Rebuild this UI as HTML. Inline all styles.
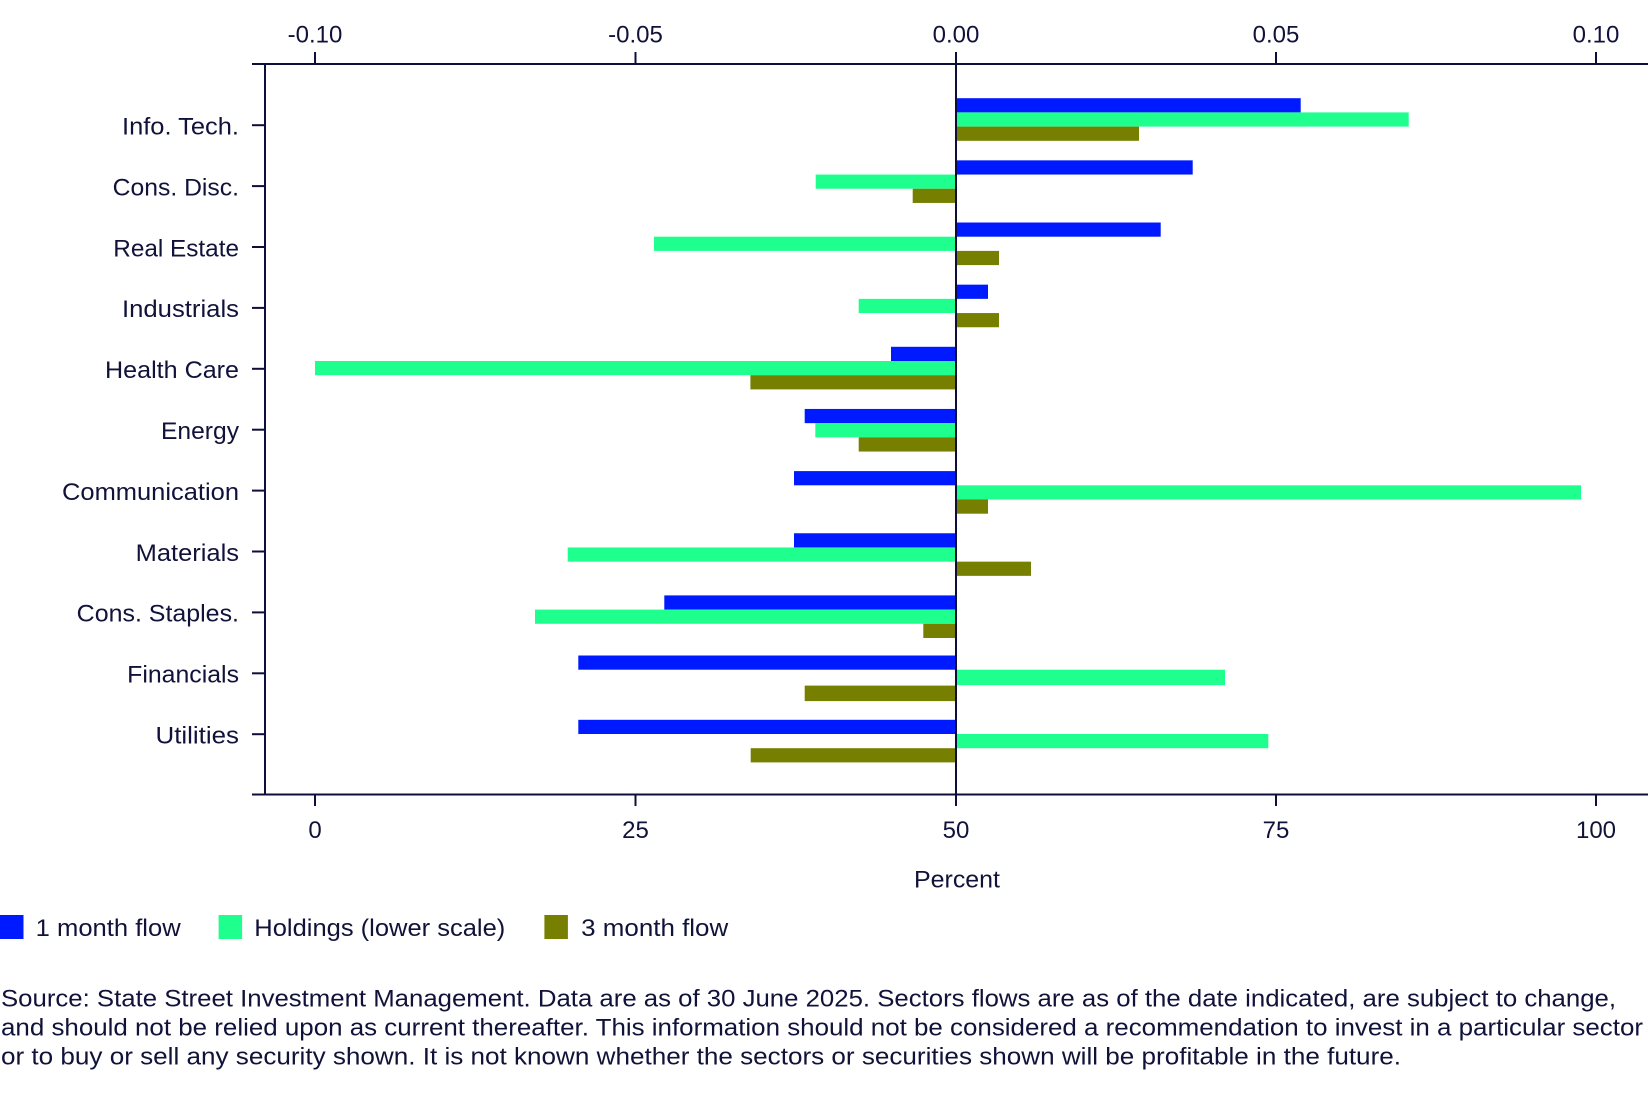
<!DOCTYPE html>
<html>
<head>
<meta charset="utf-8">
<style>
  html,body{margin:0;padding:0;background:#ffffff;}
  svg{display:block;}
  text{font-family:"Liberation Sans",sans-serif;fill:#10123a;font-size:24px;}
</style>
</head>
<body>
<svg width="1648" height="1119" viewBox="0 0 1648 1119" xmlns="http://www.w3.org/2000/svg">
  <rect x="0" y="0" width="1648" height="1119" fill="#ffffff"/>

  <!-- Bars -->
  <!-- Info. Tech. c=119.5 -->
  <g>
    <rect x="956" y="98.2" width="344.7" height="14.2" fill="#001AFF"/>
    <rect x="956" y="112.4" width="452.7" height="14.2" fill="#1FFF8E"/>
    <rect x="956" y="126.6" width="183" height="14.2" fill="#767F00"/>
  </g>
  <!-- Cons. Disc. c=181.65 -->
  <g>
    <rect x="956" y="160.35" width="236.7" height="14.2" fill="#001AFF"/>
    <rect x="815.7" y="174.55" width="140.3" height="14.2" fill="#1FFF8E"/>
    <rect x="912.7" y="188.75" width="43.3" height="14.2" fill="#767F00"/>
  </g>
  <!-- Real Estate c=243.8 -->
  <g>
    <rect x="956" y="222.5" width="204.7" height="14.2" fill="#001AFF"/>
    <rect x="654" y="236.7" width="302" height="14.2" fill="#1FFF8E"/>
    <rect x="956" y="250.9" width="43" height="14.2" fill="#767F00"/>
  </g>
  <!-- Industrials c=305.95 -->
  <g>
    <rect x="956" y="284.65" width="32" height="14.2" fill="#001AFF"/>
    <rect x="858.7" y="298.85" width="97.3" height="14.2" fill="#1FFF8E"/>
    <rect x="956" y="313.05" width="43" height="14.2" fill="#767F00"/>
  </g>
  <!-- Health Care c=368.1 -->
  <g>
    <rect x="891" y="346.8" width="65" height="14.2" fill="#001AFF"/>
    <rect x="315" y="361" width="641" height="14.2" fill="#1FFF8E"/>
    <rect x="750.4" y="375.2" width="205.6" height="14.2" fill="#767F00"/>
  </g>
  <!-- Energy c=430.25 -->
  <g>
    <rect x="804.7" y="408.95" width="151.3" height="14.2" fill="#001AFF"/>
    <rect x="815.3" y="423.15" width="140.7" height="14.2" fill="#1FFF8E"/>
    <rect x="858.7" y="437.35" width="97.3" height="14.2" fill="#767F00"/>
  </g>
  <!-- Communication c=492.4 -->
  <g>
    <rect x="794" y="471.1" width="162" height="14.2" fill="#001AFF"/>
    <rect x="956" y="485.3" width="625" height="14.2" fill="#1FFF8E"/>
    <rect x="956" y="499.5" width="32" height="14.2" fill="#767F00"/>
  </g>
  <!-- Materials c=554.55 -->
  <g>
    <rect x="794" y="533.25" width="162" height="14.2" fill="#001AFF"/>
    <rect x="567.7" y="547.45" width="388.3" height="14.2" fill="#1FFF8E"/>
    <rect x="956" y="561.65" width="75" height="14.2" fill="#767F00"/>
  </g>
  <!-- Cons. Staples. c=616.7 -->
  <g>
    <rect x="664.3" y="595.4" width="291.7" height="14.2" fill="#001AFF"/>
    <rect x="535" y="609.6" width="421" height="14.2" fill="#1FFF8E"/>
    <rect x="923.3" y="623.8" width="32.7" height="14.2" fill="#767F00"/>
  </g>
  <!-- Financials c=678.85 -->
  <g>
    <rect x="578.3" y="655.5" width="377.7" height="14.2" fill="#001AFF"/>
    <rect x="956" y="669.7" width="269" height="15.5" fill="#1FFF8E"/>
    <rect x="804.7" y="685.6" width="151.3" height="15.5" fill="#767F00"/>
  </g>
  <!-- Utilities c=741 -->
  <g>
    <rect x="578.3" y="719.8" width="377.7" height="14.2" fill="#001AFF"/>
    <rect x="956" y="734" width="312.3" height="14.2" fill="#1FFF8E"/>
    <rect x="750.7" y="748.2" width="205.3" height="14.2" fill="#767F00"/>
  </g>

  <!-- Axes -->
  <g stroke="#0d0e3a" stroke-width="2" fill="none">
    <line x1="252" y1="64" x2="1648" y2="64"/>
    <line x1="252" y1="794.5" x2="1648" y2="794.5"/>
    <line x1="265" y1="64" x2="265" y2="794.5"/>
    <line x1="956" y1="64" x2="956" y2="794.5"/>
    <!-- top ticks -->
    <line x1="315" y1="52" x2="315" y2="64"/>
    <line x1="635.5" y1="52" x2="635.5" y2="64"/>
    <line x1="956" y1="52" x2="956" y2="64"/>
    <line x1="1276" y1="52" x2="1276" y2="64"/>
    <line x1="1596" y1="52" x2="1596" y2="64"/>
    <!-- bottom ticks -->
    <line x1="315" y1="794.5" x2="315" y2="806"/>
    <line x1="635.5" y1="794.5" x2="635.5" y2="806"/>
    <line x1="956" y1="794.5" x2="956" y2="806"/>
    <line x1="1276" y1="794.5" x2="1276" y2="806"/>
    <line x1="1596" y1="794.5" x2="1596" y2="806"/>
    <!-- category ticks -->
    <line x1="252" y1="125.2" x2="265" y2="125.2"/>
    <line x1="252" y1="186.1" x2="265" y2="186.1"/>
    <line x1="252" y1="247" x2="265" y2="247"/>
    <line x1="252" y1="307.9" x2="265" y2="307.9"/>
    <line x1="252" y1="368.8" x2="265" y2="368.8"/>
    <line x1="252" y1="429.7" x2="265" y2="429.7"/>
    <line x1="252" y1="490.6" x2="265" y2="490.6"/>
    <line x1="252" y1="551.5" x2="265" y2="551.5"/>
    <line x1="252" y1="612.4" x2="265" y2="612.4"/>
    <line x1="252" y1="673.3" x2="265" y2="673.3"/>
    <line x1="252" y1="734.2" x2="265" y2="734.2"/>
  </g>

  <!-- Top tick labels -->
  <g text-anchor="middle">
    <text x="315" y="42.5">-0.10</text>
    <text x="635.5" y="42.5">-0.05</text>
    <text x="956" y="42.5">0.00</text>
    <text x="1276" y="42.5">0.05</text>
    <text x="1596" y="42.5">0.10</text>
  </g>
  <!-- Bottom tick labels -->
  <g text-anchor="middle">
    <text x="315" y="838">0</text>
    <text x="635.5" y="838">25</text>
    <text x="956" y="838">50</text>
    <text x="1276" y="838">75</text>
    <text x="1596" y="838">100</text>
    <text x="957" y="887.5" textLength="86" lengthAdjust="spacingAndGlyphs">Percent</text>
  </g>

  <!-- Category labels -->
  <g text-anchor="end">
    <text x="239" y="134.5" textLength="117" lengthAdjust="spacingAndGlyphs">Info. Tech.</text>
    <text x="239" y="195.4" textLength="126.3" lengthAdjust="spacingAndGlyphs">Cons. Disc.</text>
    <text x="239" y="256.3" textLength="125.7" lengthAdjust="spacingAndGlyphs">Real Estate</text>
    <text x="239" y="317.2" textLength="117" lengthAdjust="spacingAndGlyphs">Industrials</text>
    <text x="239" y="378.1" textLength="134" lengthAdjust="spacingAndGlyphs">Health Care</text>
    <text x="239" y="439" textLength="78" lengthAdjust="spacingAndGlyphs">Energy</text>
    <text x="239" y="499.9" textLength="177" lengthAdjust="spacingAndGlyphs">Communication</text>
    <text x="239" y="560.8" textLength="103.4" lengthAdjust="spacingAndGlyphs">Materials</text>
    <text x="239" y="621.7" textLength="162.3" lengthAdjust="spacingAndGlyphs">Cons. Staples.</text>
    <text x="239" y="682.6" textLength="111.8" lengthAdjust="spacingAndGlyphs">Financials</text>
    <text x="239" y="743.5" textLength="83.5" lengthAdjust="spacingAndGlyphs">Utilities</text>
  </g>

  <!-- Legend -->
  <rect x="0" y="915" width="23.5" height="24" fill="#001AFF"/>
  <text x="35.7" y="936" textLength="145" lengthAdjust="spacingAndGlyphs">1 month flow</text>
  <rect x="218.6" y="915" width="23.5" height="24" fill="#1FFF8E"/>
  <text x="254.3" y="936" textLength="251" lengthAdjust="spacingAndGlyphs">Holdings (lower scale)</text>
  <rect x="544.4" y="915" width="23.5" height="24" fill="#767F00"/>
  <text x="581.2" y="936" textLength="147" lengthAdjust="spacingAndGlyphs">3 month flow</text>

  <!-- Footnote -->
  <text x="1" y="1006.5" textLength="1615" lengthAdjust="spacingAndGlyphs">Source: State Street Investment Management. Data are as of 30 June 2025. Sectors flows are as of the date indicated, are subject to change,</text>
  <text x="1" y="1035.5" textLength="1642" lengthAdjust="spacingAndGlyphs">and should not be relied upon as current thereafter. This information should not be considered a recommendation to invest in a particular sector</text>
  <text x="1" y="1064.5" textLength="1400" lengthAdjust="spacingAndGlyphs">or to buy or sell any security shown. It is not known whether the sectors or securities shown will be profitable in the future.</text>
</svg>
</body>
</html>
